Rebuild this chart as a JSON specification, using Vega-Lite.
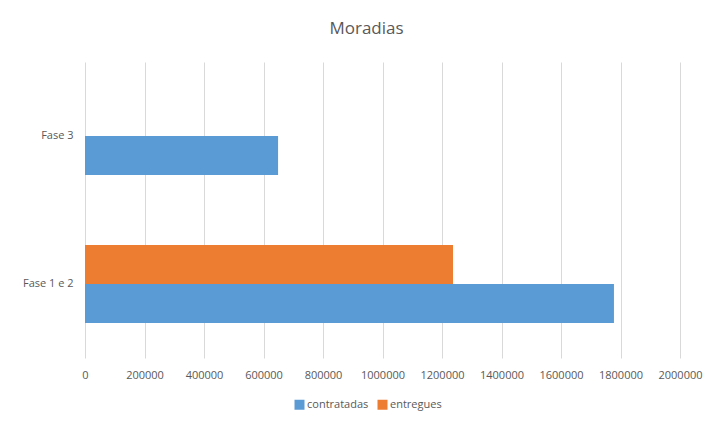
{
  "$schema": "https://vega.github.io/schema/vega-lite/v6.json",
  "width": 595,
  "height": 296,
  "autosize": {"type": "none"},
  "padding": {"left": 85, "top": 62, "right": 33, "bottom": 66},
  "background": "white",
  "title": {
    "text": "Moradias",
    "anchor": "middle",
    "frame": "group",
    "dx": -16,
    "offset": 24,
    "font": "Open Sans",
    "fontSize": 17,
    "fontWeight": "normal",
    "color": "#595959"
  },
  "data": {
    "values": [
      {"fase": "Fase 1 e 2", "serie": "contratadas", "valor": 1778000},
      {"fase": "Fase 1 e 2", "serie": "entregues", "valor": 1237000},
      {"fase": "Fase 3", "serie": "contratadas", "valor": 649000}
    ]
  },
  "mark": {"type": "bar"},
  "encoding": {
    "y": {
      "field": "fase",
      "type": "nominal",
      "sort": ["Fase 3", "Fase 1 e 2"],
      "scale": {"paddingInner": 0.473, "paddingOuter": 0.2365},
      "axis": {
        "title": null,
        "domain": false,
        "ticks": false,
        "labelPadding": 12,
        "labelFont": "Open Sans",
        "labelFontSize": 11,
        "labelColor": "#595959"
      }
    },
    "yOffset": {
      "field": "serie",
      "type": "nominal",
      "sort": ["entregues", "contratadas"],
      "scale": {"paddingInner": 0, "paddingOuter": 0}
    },
    "x": {
      "field": "valor",
      "type": "quantitative",
      "scale": {"domain": [0, 2000000], "nice": false},
      "axis": {
        "title": null,
        "values": [0, 200000, 400000, 600000, 800000, 1000000, 1200000, 1400000, 1600000, 1800000, 2000000],
        "format": "d",
        "domain": false,
        "ticks": false,
        "grid": true,
        "gridColor": "#D9D9D9",
        "gridWidth": 1,
        "labelFlush": false,
        "labelOverlap": false,
        "labelPadding": 11,
        "labelFont": "Open Sans",
        "labelFontSize": 11,
        "labelColor": "#595959"
      }
    },
    "color": {
      "field": "serie",
      "type": "nominal",
      "scale": {"domain": ["contratadas", "entregues"], "range": ["#5B9BD5", "#ED7D31"]},
      "legend": {
        "title": null,
        "orient": "none",
        "direction": "horizontal",
        "legendX": 209,
        "legendY": 337,
        "symbolType": "square",
        "symbolSize": 100,
        "symbolStrokeWidth": 0,
        "symbolOpacity": 1,
        "labelFont": "Open Sans",
        "labelFontSize": 11,
        "labelColor": "#595959",
        "labelOffset": 2,
        "columnPadding": 8
      }
    }
  },
  "config": {"view": {"stroke": null}}
}
